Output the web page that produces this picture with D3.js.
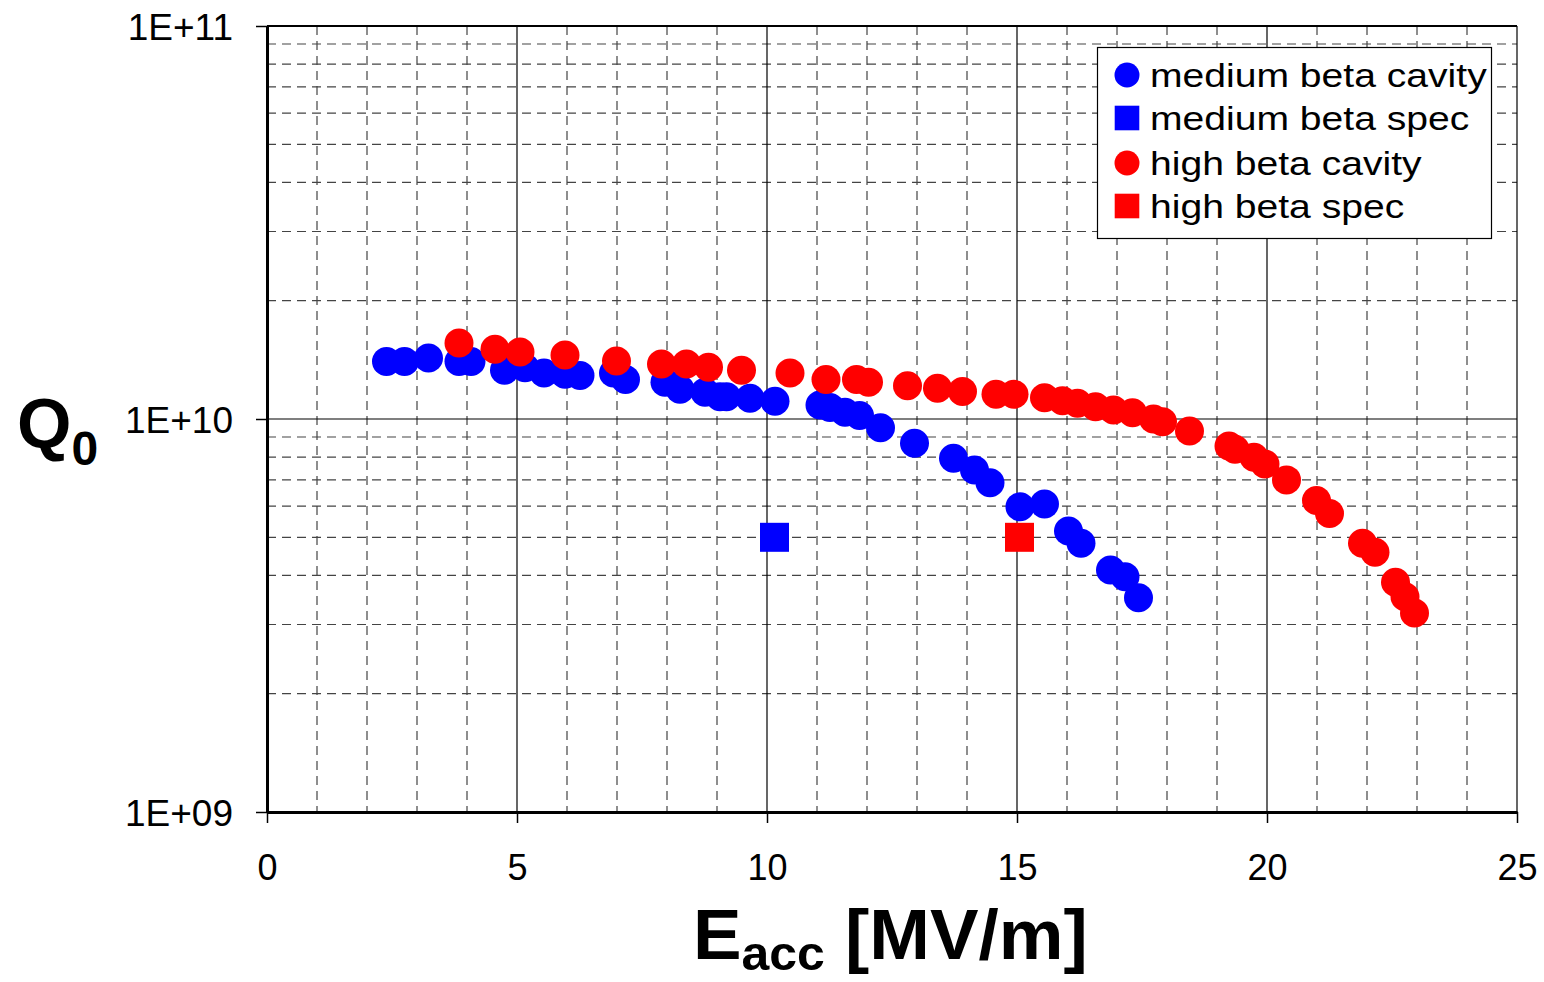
<!DOCTYPE html>
<html>
<head>
<meta charset="utf-8">
<script src="https://cdn.jsdelivr.net/npm/d3@7"></script>
<style>
  body { margin: 0; background: #fff; }
  svg { display: block; font-family: "Liberation Sans", Arial, sans-serif; }
</style>
</head>
<body>
<div id="chart"></div>
<script>
// medium beta cavity
const mediumE = [2.39, 2.75, 3.23, 3.84, 4.08, 4.75, 5.16, 5.54, 5.96, 6.26, 6.93, 7.17, 7.96, 8.26, 8.76,
                 9.06, 9.19, 9.66, 10.16, 11.06, 11.26, 11.56, 11.85, 12.27, 12.95, 13.73, 14.15, 14.46,
                 15.06, 15.55, 16.03, 16.28, 16.87, 17.16, 17.43];
const mediumQ = [1.40e10, 1.40e10, 1.43e10, 1.40e10, 1.40e10, 1.33e10, 1.35e10, 1.31e10, 1.30e10, 1.29e10,
                 1.31e10, 1.26e10, 1.24e10, 1.19e10, 1.17e10, 1.14e10, 1.14e10, 1.13e10, 1.11e10, 1.085e10,
                 1.07e10, 1.04e10, 1.02e10, 9.5e9, 8.68e9, 7.94e9, 7.42e9, 6.88e9, 5.98e9, 6.08e9,
                 5.19e9, 4.83e9, 4.13e9, 3.97e9, 3.51e9];
// high beta cavity
const highE = [3.84, 4.56, 5.06, 5.96, 6.99, 7.89, 8.39, 8.83, 9.49, 10.46, 11.18, 11.79, 12.03, 12.81, 13.41,
               13.91, 14.58, 14.94, 15.55, 15.91, 16.21, 16.57, 16.93, 17.31, 17.73, 17.91, 18.45, 19.24,
               19.36, 19.74, 19.96, 20.39, 20.99, 21.25, 21.91, 22.16, 22.57, 22.76, 22.95];
const highQ = [1.56e10, 1.505e10, 1.48e10, 1.455e10, 1.405e10, 1.38e10, 1.38e10, 1.354e10, 1.33e10, 1.31e10,
               1.26e10, 1.26e10, 1.24e10, 1.215e10, 1.197e10, 1.174e10, 1.156e10, 1.156e10, 1.133e10, 1.113e10,
               1.096e10, 1.075e10, 1.054e10, 1.038e10, 1.0e10, 9.84e9, 9.32e9, 8.54e9, 8.37e9, 7.99e9,
               7.68e9, 7.0e9, 6.2e9, 5.75e9, 4.83e9, 4.58e9, 3.84e9, 3.53e9, 3.21e9];
// specifications
const specE = [10.15, 15.05];
const specQ = [5.0e9, 5.0e9];

const seriesNames = ["medium beta cavity", "medium beta spec", "high beta cavity", "high beta spec"];
const seriesColors = ["#0000ff", "#0000ff", "#ff0000", "#ff0000"];
const seriesShapes = ["circle", "square", "circle", "square"];

const xTicks = [0, 5, 10, 15, 20, 25];
const yTicks = [1e9, 1e10, 1e11];
const yTickLabels = ["1E+09", "1E+10", "1E+11"];

const w = 1544, h = 982;
const margin = {top: 26, right: 27, bottom: 170, left: 267};

const svg = d3.select("#chart").append("svg")
    .attr("width", w)
    .attr("height", h);

svg.append("rect").attr("width", w).attr("height", h).attr("fill", "#fff");

const xScale = d3.scaleLinear().domain([0, 25]).range([margin.left, w - margin.right]);
const yScale = d3.scaleLog().domain([1e9, 1e11]).range([h - margin.bottom, margin.top]);

// minor grid (dashed)
const xMinor = d3.range(1, 25).filter(d => d % 5 !== 0);
const yMinor = [];
[1e9, 1e10].forEach(dec => { for (let k = 2; k <= 9; k++) yMinor.push(dec * k); });

const grid = svg.append("g");
grid.selectAll("line.xminor").data(xMinor).enter().append("line")
    .attr("x1", d => xScale(d)).attr("x2", d => xScale(d))
    .attr("y1", yScale(1e11)).attr("y2", yScale(1e9))
    .attr("stroke", "#444").attr("stroke-width", 1.2).attr("stroke-dasharray", "9,6");
grid.selectAll("line.yminor").data(yMinor).enter().append("line")
    .attr("x1", xScale(0)).attr("x2", xScale(25))
    .attr("y1", d => yScale(d)).attr("y2", d => yScale(d))
    .attr("stroke", "#444").attr("stroke-width", 1.2).attr("stroke-dasharray", "9,6");
// major grid (solid)
grid.selectAll("line.xmajor").data(xTicks.slice(1)).enter().append("line")
    .attr("x1", d => xScale(d)).attr("x2", d => xScale(d))
    .attr("y1", yScale(1e11)).attr("y2", yScale(1e9))
    .attr("stroke", "#000").attr("stroke-width", 1.2);
grid.selectAll("line.ymajor").data(yTicks.slice(1)).enter().append("line")
    .attr("x1", xScale(0)).attr("x2", xScale(25))
    .attr("y1", d => yScale(d)).attr("y2", d => yScale(d))
    .attr("stroke", "#000").attr("stroke-width", d => d === 1e11 ? 2 : 1.2);

// axes
const xAxis = svg.append("g")
    .attr("transform", `translate(0,${yScale(1e9)})`)
    .call(d3.axisBottom(xScale).tickValues(xTicks).tickSize(11).tickPadding(31).tickSizeOuter(0));
const yAxis = svg.append("g")
    .attr("transform", `translate(${xScale(0)},0)`)
    .call(d3.axisLeft(yScale).tickValues(yTicks).tickSize(11).tickPadding(23).tickSizeOuter(0)
        .tickFormat((d, i) => yTickLabels[i]));
[xAxis, yAxis].forEach(a => {
    a.select(".domain").attr("stroke", "#000").attr("stroke-width", 3);
    a.selectAll(".tick line").attr("stroke", "#000").attr("stroke-width", 1.5);
    a.selectAll("text")
        .attr("fill", "#000")
        .attr("font-family", "'Liberation Sans', Arial, sans-serif")
        .attr("font-size", "36px");
});
yAxis.selectAll("text").attr("dy", "0.36em").attr("font-size", "37px");

// points
const plot = svg.append("g");
const medium = mediumE.map((e, i) => ({e: e, q: mediumQ[i]}));
const high = highE.map((e, i) => ({e: e, q: highQ[i]}));
const r = 14.5, sq = 29;

plot.selectAll("circle.medium").data(medium).enter().append("circle")
    .attr("cx", d => xScale(d.e)).attr("cy", d => yScale(d.q))
    .attr("r", r).attr("fill", seriesColors[0]);
plot.append("rect")
    .attr("x", xScale(specE[0]) - sq / 2).attr("y", yScale(specQ[0]) - sq / 2)
    .attr("width", sq).attr("height", sq).attr("fill", seriesColors[1]);
plot.selectAll("circle.high").data(high).enter().append("circle")
    .attr("cx", d => xScale(d.e)).attr("cy", d => yScale(d.q))
    .attr("r", r).attr("fill", seriesColors[2]);
plot.append("rect")
    .attr("x", xScale(specE[1]) - sq / 2).attr("y", yScale(specQ[1]) - sq / 2)
    .attr("width", sq).attr("height", sq).attr("fill", seriesColors[3]);

// axis titles
const xt = svg.append("text")
    .attr("x", 693).attr("y", 959)
    .attr("transform", "translate(693,0) scale(1.04,1) translate(-693,0)")
    .attr("font-weight", "bold").attr("font-size", "70px").attr("fill", "#000");
xt.append("tspan").text("E");
xt.append("tspan").attr("font-size", "48px").attr("dy", 11).text("acc");
xt.append("tspan").attr("dy", -11).text(" [MV/m]");

const yt = svg.append("text")
    .attr("x", 17).attr("y", 448)
    .attr("font-weight", "bold").attr("font-size", "70px").attr("fill", "#000");
yt.append("tspan").text("Q");
yt.append("tspan").attr("font-size", "48px").attr("dy", 17).text("0");

// legend
const lg = svg.append("g");
lg.append("rect")
    .attr("x", 1097.5).attr("y", 47.5).attr("width", 394).attr("height", 191)
    .attr("fill", "#fff").attr("stroke", "#000").attr("stroke-width", 1.2);
const legendY = [75, 118, 163, 206];
seriesNames.forEach((name, i) => {
    if (seriesShapes[i] === "circle") {
        lg.append("circle").attr("cx", 1127).attr("cy", legendY[i]).attr("r", 12.5)
            .attr("fill", seriesColors[i]);
    } else {
        lg.append("rect").attr("x", 1127 - 12.3).attr("y", legendY[i] - 12.3)
            .attr("width", 24.6).attr("height", 24.6).attr("fill", seriesColors[i]);
    }
    lg.append("text")
        .attr("x", 1150).attr("y", legendY[i] + 12)
        .attr("transform", "translate(1150,0) scale(1.15,1) translate(-1150,0)")
        .attr("font-size", "34px").attr("fill", "#000")
        .text(name);
});
</script>
</body>
</html>
